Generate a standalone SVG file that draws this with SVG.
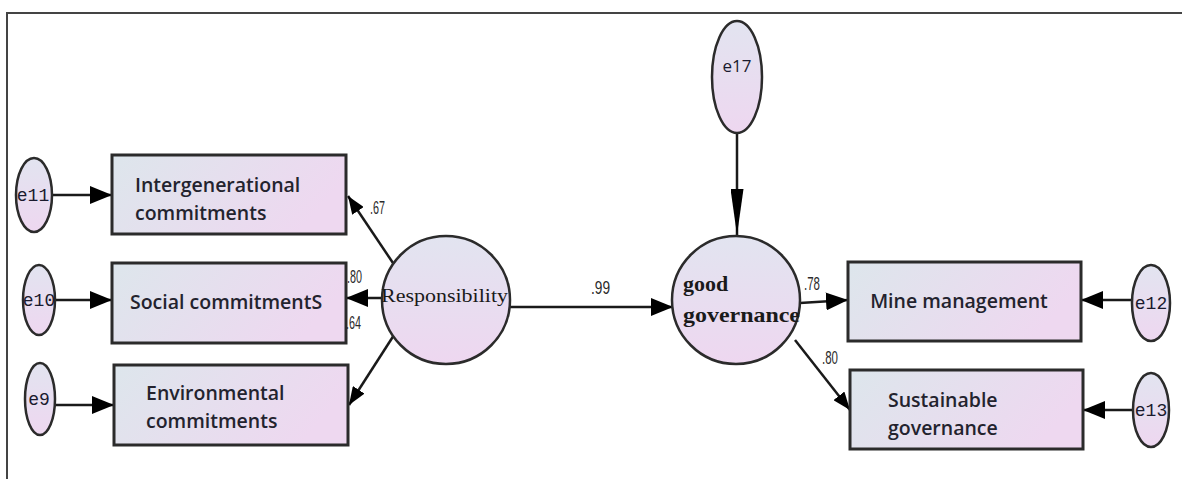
<svg xmlns="http://www.w3.org/2000/svg" width="1182" height="479" viewBox="0 0 1182 479">
<defs>
<linearGradient id="gBox" x1="0" y1="0" x2="1" y2="0.3">
<stop offset="0" stop-color="#dde6ec"/>
<stop offset="1" stop-color="#eed8f0"/>
</linearGradient>
<linearGradient id="gEl" x1="0" y1="0" x2="0" y2="1">
<stop offset="0" stop-color="#e2e4f0"/>
<stop offset="1" stop-color="#eed7f0"/>
</linearGradient>
<marker id="ah" viewBox="0 0 22 18" refX="22" refY="9" markerWidth="22" markerHeight="18" markerUnits="userSpaceOnUse" orient="auto">
<path d="M0,0 L22,9 L0,18 Z" fill="#000"/>
</marker>
<marker id="ahs" viewBox="0 0 18 14" refX="18" refY="7" markerWidth="18" markerHeight="14" markerUnits="userSpaceOnUse" orient="auto">
<path d="M0,0 L18,7 L0,14 Z" fill="#000"/>
</marker>
<marker id="ahv" viewBox="0 0 46 13" refX="46" refY="6.5" markerWidth="46" markerHeight="13" markerUnits="userSpaceOnUse" orient="auto">
<path d="M0,0 L46,6.5 L0,13 Z" fill="#000"/>
</marker>
</defs>
<style>
.box{fill:url(#gBox);stroke:#2b2b2b;stroke-width:3}
.el{fill:url(#gEl);stroke:#2b2b2b;stroke-width:2.5}
.bt{font-family:"Open Sans","Liberation Sans",sans-serif;font-weight:600;font-size:19.5px;fill:#23232e}
.et{font-family:"Liberation Mono","DejaVu Sans Mono",monospace;font-size:18px;fill:#1a1a2e}
.st{font-family:"Liberation Serif",serif;fill:#1a1a1a}
.lb{font-family:"Liberation Sans",sans-serif;font-size:19px;fill:#2a2a2a}
.c{stroke:#1a1a1a;stroke-width:2.5;fill:none}
.frame{stroke:#444;stroke-width:2;fill:none}
</style>
<g id="frame"><path class="frame" d="M7,479 L7,13 L1182,13"/></g>

<g id="connectors">
<line class="c" x1="52" y1="195" x2="112" y2="195" marker-end="url(#ah)"/>
<line class="c" x1="56" y1="300" x2="112" y2="300" marker-end="url(#ah)"/>
<line class="c" x1="55" y1="405" x2="114" y2="405" marker-end="url(#ah)"/>
<line class="c" x1="1132" y1="300" x2="1081" y2="300" marker-end="url(#ah)"/>
<line class="c" x1="1133" y1="410" x2="1083" y2="410" marker-end="url(#ah)"/>
<line class="c" x1="737" y1="133" x2="737" y2="235" stroke-width="1.6" marker-end="url(#ahv)"/>
<line class="c" x1="393" y1="263" x2="348" y2="196" marker-end="url(#ahs)"/>
<line class="c" x1="383" y1="298" x2="346" y2="298" marker-end="url(#ah)"/>
<line class="c" x1="394" y1="335" x2="349" y2="405" marker-end="url(#ahs)"/>
<line class="c" x1="510" y1="307" x2="673" y2="307" marker-end="url(#ah)"/>
<line class="c" x1="800" y1="303" x2="848" y2="300" marker-end="url(#ah)"/>
<line class="c" x1="795" y1="340" x2="850" y2="410" marker-end="url(#ahs)"/>
<text class="lb" x="370" y="214" textLength="15" lengthAdjust="spacingAndGlyphs">.67</text>
<text class="lb" x="347" y="283" textLength="15" lengthAdjust="spacingAndGlyphs">.80</text>
<text class="lb" x="346" y="329" textLength="15" lengthAdjust="spacingAndGlyphs">.64</text>
<text class="lb" x="591" y="294" textLength="19" lengthAdjust="spacingAndGlyphs">.99</text>
<text class="lb" x="804" y="290" textLength="16" lengthAdjust="spacingAndGlyphs">.78</text>
<text class="lb" x="822" y="364" textLength="16" lengthAdjust="spacingAndGlyphs">.80</text>
</g>

<g id="e11"><ellipse class="el" cx="34" cy="195" rx="18" ry="37"/><text class="et" x="33" y="201" text-anchor="middle">e11</text></g>
<g id="e10"><ellipse class="el" cx="39" cy="300" rx="16" ry="35"/><text class="et" x="39" y="306" text-anchor="middle">e10</text></g>
<g id="e9"><ellipse class="el" cx="40" cy="399" rx="15" ry="36"/><text class="et" x="39" y="405" text-anchor="middle">e9</text></g>
<g id="e12"><ellipse class="el" cx="1151" cy="303" rx="19" ry="38"/><text class="et" x="1151" y="309" text-anchor="middle">e12</text></g>
<g id="e13"><ellipse class="el" cx="1151" cy="410" rx="18" ry="37"/><text class="et" x="1151" y="416" text-anchor="middle">e13</text></g>
<g id="e17"><ellipse class="el" cx="737" cy="77" rx="25" ry="56"/><text x="737" y="72" text-anchor="middle" font-family="Open Sans,Liberation Sans,sans-serif" font-size="17" fill="#1a1a2e">e17</text></g>

<g id="intergenerational"><rect class="box" x="112" y="155" width="234" height="79"/><text class="bt" x="135" y="192">Intergenerational</text><text class="bt" x="135" y="220">commitments</text></g>
<g id="social"><rect class="box" x="112" y="263" width="234" height="80"/><text class="bt" x="130" y="309">Social commitmentS</text></g>
<g id="environmental"><rect class="box" x="114" y="365" width="234" height="80"/><text class="bt" x="146" y="400">Environmental</text><text class="bt" x="146" y="428">commitments</text></g>
<g id="mine"><rect class="box" x="848" y="262" width="233" height="79"/><text class="bt" x="959" y="308" text-anchor="middle">Mine management</text></g>
<g id="sustainable"><rect class="box" x="850" y="370" width="233" height="79"/><text class="bt" x="888" y="407">Sustainable</text><text class="bt" x="888" y="435">governance</text></g>

<g id="responsibility"><circle class="el" cx="446" cy="300" r="64"/><text class="st" x="381" y="302" font-size="19" textLength="127" lengthAdjust="spacingAndGlyphs">Responsibility</text></g>
<g id="goodgov"><circle class="el" cx="736" cy="300" r="64"/><text class="st" x="683" y="291" font-size="22" font-weight="bold">good</text><text class="st" x="683" y="322" font-size="22" font-weight="bold" textLength="117" lengthAdjust="spacingAndGlyphs">governance</text></g>
</svg>
